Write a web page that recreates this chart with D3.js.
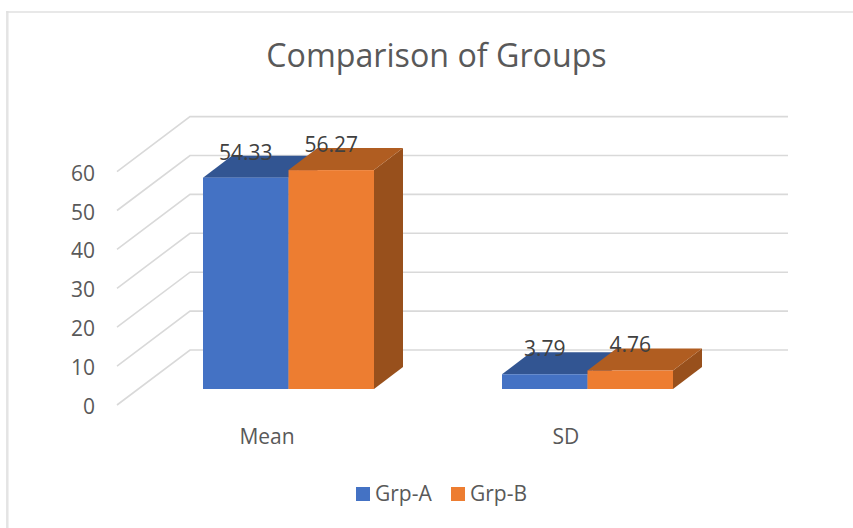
<!DOCTYPE html>
<html><head><meta charset="utf-8">
<script src="https://cdn.jsdelivr.net/npm/d3@7/dist/d3.min.js"></script>
<style>html,body{margin:0;padding:0;background:#fff}svg{display:block}text{font-family:"Open Sans",sans-serif}</style>
</head><body><svg id="c" width="853" height="528"></svg>
<script>
const categories = ["Mean", "SD"];
const seriesNames = ["Grp-A", "Grp-B"];
const grpA = [54.33, 3.79];
const grpB = [56.27, 4.76];
const yTicks = [0, 10, 20, 30, 40, 50, 60];
const seriesValues = [grpA, grpB];
const colors = ["#4472C4", "#ED7D31"];
const topColors = ["#325592", "#B05D21"];
const sideColors = ["#2A4A80", "#98501C"];

const svg = d3.select("#c");
const W = 853, H = 528;
const baseY = 389, wallBase = 350;
const y = d3.scaleLinear().domain([0, 60]).range([0, 233.4]);
const x0 = d3.scaleBand().domain(categories).range([139, 737]);
const x1 = d3.scaleBand().domain(seriesNames).range([-85.5, 85.5]);

// chart frame
svg.append("line").attr("x1", 7.3).attr("x2", 7.3).attr("y1", 11).attr("y2", H).attr("stroke", "#e4e4e4").attr("stroke-width", 2.5);
svg.append("line").attr("x1", 6).attr("x2", W).attr("y1", 12).attr("y2", 12).attr("stroke", "#e0e0e0").attr("stroke-width", 1.5);

// title
svg.append("text").attr("x", 436.5).attr("y", 67).attr("text-anchor", "middle")
  .attr("font-size", 32.2).attr("fill", "#595959").text("Comparison of Groups");

// gridlines: side wall + back wall
const gridColor = "#d9d9d9";
const grid = svg.append("g").attr("fill", "none").attr("stroke", gridColor).attr("stroke-width", 1.6);
yTicks.forEach(t => {
  const wy = wallBase - y(t);
  grid.append("path").attr("d", `M117,${wy + 55}L190,${wy}H788`);
});

// y tick labels
svg.append("g").selectAll("text").data(yTicks).join("text")
  .attr("x", 95).attr("y", d => 405 - y(d) + 9).attr("text-anchor", "end")
  .attr("font-size", 21).attr("fill", "#595959").text(d => d);

// bars: draw each category left to right, series A then B
const dx = 29, dy = 22;
categories.forEach((cat, ci) => {
  const cx = x0(cat) + x0.bandwidth() / 2;
  seriesNames.forEach((s, si) => {
    const v = seriesValues[si][ci];
    const bx = cx + x1(s), bw = x1.bandwidth(), h = y(v), ty = baseY - h;
    const g = svg.append("g");
    g.append("path").attr("fill", sideColors[si])
      .attr("d", `M${bx + bw},${ty}l${dx},${-dy}V${baseY - dy}L${bx + bw},${baseY}Z`);
    g.append("path").attr("fill", topColors[si])
      .attr("d", `M${bx},${ty}l${dx},${-dy}h${bw}l${-dx},${dy}Z`);
    g.append("rect").attr("x", bx).attr("y", ty).attr("width", bw).attr("height", h).attr("fill", colors[si]);
  });
});

// data labels
categories.forEach((cat, ci) => {
  const cx = x0(cat) + x0.bandwidth() / 2;
  seriesNames.forEach((s, si) => {
    const v = seriesValues[si][ci];
    svg.append("text").attr("x", cx + x1(s) + x1.bandwidth() / 2).attr("y", baseY - y(v) - 18)
      .attr("text-anchor", "middle").attr("font-size", 21).attr("fill", "#404040").text(v.toFixed(2));
  });
});

// category labels
svg.append("g").selectAll("text").data(categories).join("text")
  .attr("x", d => x0(d) + x0.bandwidth() / 2 - 21.5).attr("y", 444).attr("text-anchor", "middle")
  .attr("font-size", 21).attr("fill", "#595959").text(d => d);

// legend
const legendX = d3.scaleOrdinal().domain(seriesNames).range([356, 451]);
seriesNames.forEach((s, i) => {
  svg.append("rect").attr("x", legendX(s)).attr("y", 487).attr("width", 14).attr("height", 14).attr("fill", colors[i]);
  svg.append("text").attr("x", legendX(s) + 19).attr("y", 501).attr("font-size", 21).attr("fill", "#595959").text(s);
});
</script></body></html>
